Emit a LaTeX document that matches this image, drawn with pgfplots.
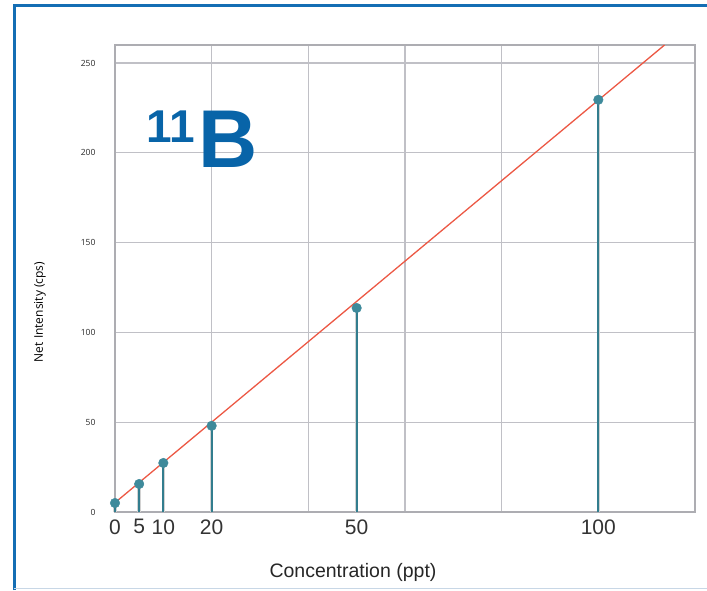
\documentclass[border=0pt]{standalone}
\usepackage{pgfplots}
\pgfplotsset{compat=1.18}
\usepackage{fontspec}
\setmainfont{Liberation Sans}
\newfontfamily\osans{Open Sans}
\definecolor{frameblue}{RGB}{20,110,180}
\definecolor{titleblue}{RGB}{8,100,168}
\definecolor{gridgray}{RGB}{192,192,198}
\definecolor{stemteal}{RGB}{50,125,142}
\definecolor{markteal}{RGB}{62,138,155}
\definecolor{fitred}{RGB}{236,88,68}
\begin{document}
\begin{tikzpicture}[x=1pt,y=1pt]
\useasboundingbox (0,0) rectangle (707,590);
% frame
\draw[frameblue, line width=3pt] (14,0) -- (14,584) -- (707,584);
\draw[color={rgb,255:red,200;green,215;blue,230}, line width=1pt] (14,2) -- (707,2);

\begin{axis}[
    at={(115pt,78pt)}, anchor=south west,
    scale only axis, width=580pt, height=467pt,
    xmin=0, xmax=120, ymin=0, ymax=260,
    xtick={0,5,10,20,50,100},
    minor xtick={20,40,60,80,100},
    ytick={0,50,100,150,200,250},
    xminorgrids=true, ymajorgrids=true,
    grid style={gridgray, line width=1.2pt},
    minor grid style={gridgray, line width=1.2pt},
    axis line style={gridgray!90!black, line width=1.2pt},
    major tick length=0pt, minor tick length=0pt,
    /pgf/number format/assume math mode=true,
    xticklabel style={font=\fontsize{21}{21}\selectfont, text=black!80, yshift=-4pt},
    yticklabel style={font=\osans\fontsize{8.5}{9}\selectfont, text=black!85, xshift=-16pt},
    clip=false,
]
\addplot[ycomb, gray!35, line width=3.5pt, forget plot] coordinates {
    (0,5.0) (5,15.6) (10,27.3) (20,48.0) (50,113.6) (100,229.5)
};
\addplot[ycomb, stemteal, line width=1.8pt, forget plot] coordinates {
    (0,5.0) (5,15.6) (10,27.3) (20,48.0) (50,113.6) (100,229.5)
};
\addplot[fitred, line width=1.3pt] coordinates {
    (0,5.2) (113.7,260)
};
\addplot[only marks, mark=*, mark size=4.8pt, mark options={fill=markteal, draw=markteal}] coordinates {
    (0,5.0) (5,15.6) (10,27.3) (20,48.0) (50,113.6) (100,229.5)
};
\end{axis}

\node[anchor=center, font=\fontsize{19.5}{20}\selectfont, text=black!85] at (353,18) {Concentration (ppt)};
\node[rotate=90, anchor=center, font=\osans\fontsize{12}{14}\selectfont] at (40,278) {Net Intensity (cps)};
\node[anchor=base west, inner sep=0pt, text=titleblue, font=\fontsize{46}{46}\selectfont\bfseries] at (146,447) {11};
\node[anchor=base west, inner sep=0pt, text=titleblue, font=\fontsize{82}{82}\selectfont\bfseries] at (198,422) {B};
\end{tikzpicture}
\end{document}
